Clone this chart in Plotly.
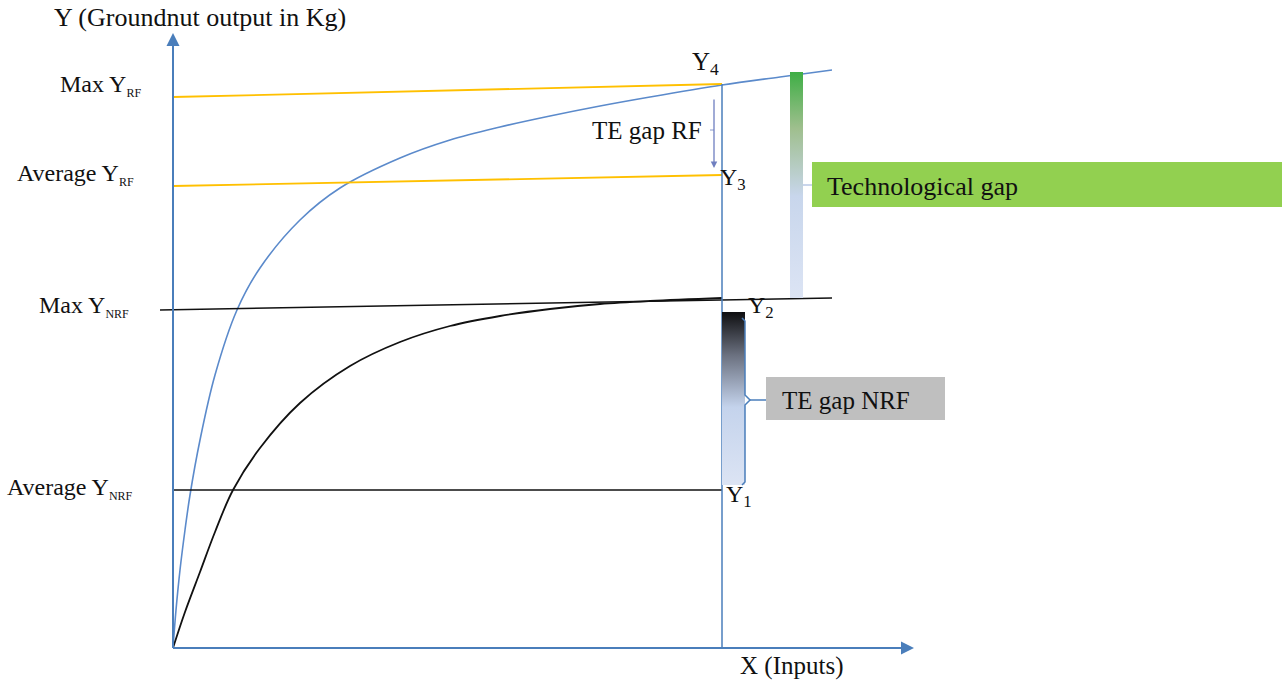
import plotly.graph_objects as go

# ---- conceptual data (x = inputs, y = groundnut output) ----
rf_x = [0, 3, 7, 12, 17, 27, 42, 64, 87, 127, 167, 227, 277, 327, 377, 427, 477, 549, 607, 659]
rf_y = [0, 38, 78, 118, 153, 208, 273, 338, 380, 428, 460, 490, 508, 521, 532, 542, 551, 563, 571, 578]

nrf_x = [0, 12, 27, 42, 60, 87, 127, 177, 227, 277, 327, 377, 427, 477, 549]
nrf_y = [0, 36, 76, 116, 158, 200, 245, 282, 306, 322, 332, 339, 344, 347, 350]

x_obs = 549              # input level where the gaps are measured
max_rf = [551, 564]      # start / end of the "Max Y RF" line
avg_rf = [462, 473]
max_nrf = [338, 350]
avg_nrf = [158, 158]
x_end_short = 549
x_end_long = 659

axis_x_max = 739
axis_y_max = 613

left_labels = ["Max Y", "Average Y", "Max Y", "Average Y"]
left_subs = ["RF", "RF", "NRF", "NRF"]
left_x = [-115, -158, -136, -168]
left_y = [563, 474, 342, 160]

BLUE_AX = "#4A7EBB"
BLUE_C = "#5B8ACB"
ORANGE = "#FFC000"
FONT = "Liberation Serif"

fig = go.Figure()

def line(xs, ys, color, width=1.6, shape="linear"):
    fig.add_trace(go.Scatter(x=xs, y=ys, mode="lines", hoverinfo="skip",
                             line=dict(color=color, width=width, shape=shape),
                             showlegend=False))

# curves
line(rf_x, rf_y, BLUE_C, 1.6, "spline")
line(nrf_x, nrf_y, "#111111", 1.8, "spline")

# reference lines
line([0, x_end_short], max_rf, ORANGE, 1.8)
line([0, x_end_short], avg_rf, ORANGE, 1.8)
line([-13, x_end_long], max_nrf, "#111111", 1.5)
line([0, x_end_short], avg_nrf, "#111111", 1.5)

# vertical at observed input
line([x_obs, x_obs], [0, max_rf[1]], BLUE_AX, 1.5)

# axes
line([0, 0], [0, axis_y_max], BLUE_AX, 2)
line([0, axis_x_max], [0, 0], BLUE_AX, 2)
fig.add_annotation(x=0, y=axis_y_max + 2, ax=0, ay=axis_y_max - 20, xref="x", yref="y",
                   axref="x", ayref="y", showarrow=True, arrowhead=2, arrowsize=1.3,
                   arrowwidth=2, arrowcolor=BLUE_AX, text="")
fig.add_annotation(x=axis_x_max + 2, y=0, ax=axis_x_max - 20, ay=0, xref="x", yref="y",
                   axref="x", ayref="y", showarrow=True, arrowhead=2, arrowsize=1.3,
                   arrowwidth=2, arrowcolor=BLUE_AX, text="")

# TE gap RF arrow
fig.add_annotation(x=541, y=480, ax=541, ay=550, xref="x", yref="y", axref="x", ayref="y",
                   showarrow=True, arrowhead=2, arrowsize=1, arrowwidth=1.3,
                   arrowcolor="#6F7FC0", text="")
line([537, 541], [518, 518], "#8899CC", 1)

# Technological gap gradient bar
fig.add_trace(go.Scatter(x=[617, 630, 630, 617, 617], y=[576, 576, 350, 350, 576],
                         mode="lines", fill="toself", line=dict(width=0), hoverinfo="skip",
                         showlegend=False,
                         fillgradient=dict(type="vertical", start=350, stop=576,
                                           colorscale=[[0, "#DCE4F4"], [0.45, "#C8D6EC"],
                                                       [0.75, "#9FBF8E"], [1, "#3EAE45"]])))
line([630, 639], [463, 463], "#B8C9E6", 1.5)
fig.add_shape(type="rect", x0=639, x1=1115, y0=441, y1=486, xref="x", yref="y",
              fillcolor="#92D050", line=dict(width=0), layer="below")

# TE gap NRF gradient bar
fig.add_trace(go.Scatter(x=[549, 572, 572, 549, 549], y=[336, 336, 163, 163, 336],
                         mode="lines", fill="toself", line=dict(width=0), hoverinfo="skip",
                         showlegend=False,
                         fillgradient=dict(type="vertical", start=163, stop=336,
                                           colorscale=[[0, "#DCE4F4"], [0.45, "#C4D3EC"],
                                                       [0.75, "#6B7180"], [1, "#0E0E10"]])))
line([569, 572, 572, 577, 572, 572, 569], [330, 327, 253, 248, 243, 166, 163], BLUE_AX, 1.5)
line([577, 593], [248, 248], BLUE_AX, 1.5)
fig.add_shape(type="rect", x0=593, x1=772, y0=228, y1=271, xref="x", yref="y",
              fillcolor="#BFBFBF", line=dict(width=0), layer="below")

# text labels
def txt(x, y, s, anchor="center", size=25):
    fig.add_annotation(x=x, y=y, text=s, showarrow=False, xref="x", yref="y",
                       xanchor=anchor, yanchor="middle",
                       font=dict(family=FONT, size=size, color="#111111"))

txt(27, 631, "Y (Groundnut output in Kg)", "center", 26)
txt(618, -18, "X (Inputs)", "center", 25)
for lab, sub, lx, ly in zip(left_labels, left_subs, left_x, left_y):
    txt(lx, ly, f"{lab}<sub><span style='font-size:12px'>{sub}</span></sub>", "left", 24)
txt(532, 585, "Y<sub>4</sub>", "center", 25)
txt(560, 469, "Y<sub>3</sub>", "center", 24)
txt(588, 341, "Y<sub>2</sub>", "center", 24)
txt(566, 152, "Y<sub>1</sub>", "center", 24)
txt(531, 518, "TE gap RF", "right", 25)
txt(652, 462, "Technological gap", "left", 26)
txt(607, 248, "TE gap NRF", "left", 25)

fig.update_layout(
    width=1282, height=683, margin=dict(l=0, r=0, t=0, b=0),
    paper_bgcolor="white", plot_bgcolor="white", showlegend=False,
    xaxis=dict(range=[-173, 1109], visible=False, fixedrange=True),
    yaxis=dict(range=[-35, 648], visible=False, fixedrange=True),
)

fig.write_html("out.html", config={"displayModeBar": False},
               post_script="document.body.style.margin='0';document.body.style.overflow='hidden';")
